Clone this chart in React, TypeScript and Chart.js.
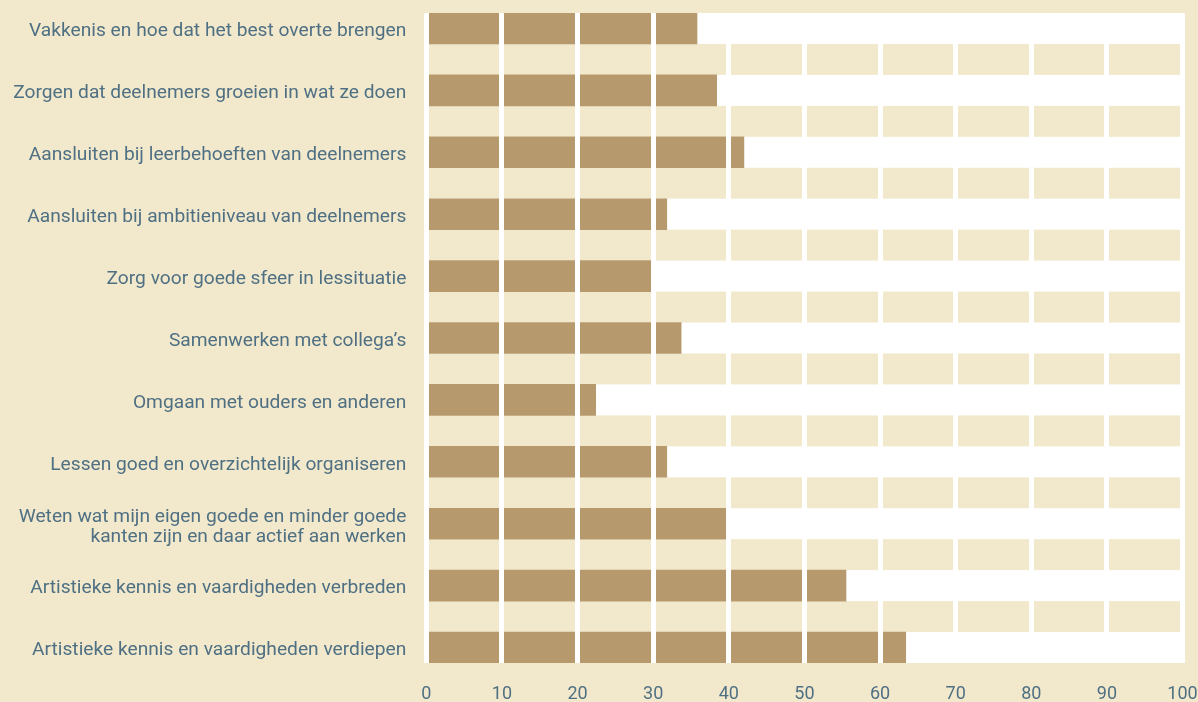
import React, { useEffect, useRef } from "react";
import { Chart, registerables } from "chart.js";

Chart.register(...registerables);

const categories: (string | string[])[] = [
  "Vakkenis en hoe dat het best overte brengen",
  "Zorgen dat deelnemers groeien in wat ze doen",
  "Aansluiten bij leerbehoeften van deelnemers",
  "Aansluiten bij ambitieniveau van deelnemers",
  "Zorg voor goede sfeer in lessituatie",
  "Samenwerken met collega’s",
  "Omgaan met ouders en anderen",
  "Lessen goed en overzichtelijk organiseren",
  ["Weten wat mijn eigen goede en minder goede", "kanten zijn en daar actief aan werken"],
  "Artistieke kennis en vaardigheden verbreden",
  "Artistieke kennis en vaardigheden verdiepen",
];

const values: number[] = [35.8, 38.4, 42, 31.8, 29.7, 33.7, 22.4, 31.8, 39.7, 55.5, 63.4];

const xMin = 0;
const xMax = 100;
const xStep = 10;

const PAGE_BG = "#F2E9CD";
const BAR = "#B69A6E";
const BAND = "#F2E9CD";
const TEXT = "#4F7083";
const FONT = "Roboto";

export default function App() {
  const ref = useRef<HTMLCanvasElement | null>(null);

  useEffect(() => {
    if (!ref.current) return;
    // interleave categories with spacer slots
    const labels: (string | string[])[] = [];
    const barData: (number | null)[] = [];
    categories.forEach((c, i) => {
      labels.push(c);
      barData.push(values[i]);
      if (i < categories.length - 1) {
        labels.push("");
        barData.push(null);
      }
    });

    const bgPlugin = {
      id: "bg",
      beforeDraw(chart: any) {
        const { ctx, chartArea } = chart;
        ctx.save();
        ctx.fillStyle = "#ffffff";
        ctx.fillRect(chartArea.left, chartArea.top, chartArea.right - chartArea.left, chartArea.bottom - chartArea.top);
        ctx.restore();
      },
      beforeDatasetsDraw(chart: any) {
        const { ctx } = chart;
        const xs = chart.scales.x;
        const ys = chart.scales.y;
        ctx.save();
        ctx.fillStyle = BAND;
        for (let i = 1; i < labels.length; i += 2) {
          const y0 = (ys.getPixelForValue(i - 1) + ys.getPixelForValue(i)) / 2;
          const y1 = (ys.getPixelForValue(i) + ys.getPixelForValue(i + 1)) / 2;
          const x0 = xs.getPixelForValue(xMin);
          const x1 = xs.getPixelForValue(xMax);
          ctx.fillRect(x0, y0, x1 - x0, y1 - y0);
        }
        ctx.restore();
      },
    };

    const chart = new Chart(ref.current, {
      type: "bar",
      data: {
        labels,
        datasets: [
          {
            data: barData,
            backgroundColor: BAR,
            borderWidth: 0,
            barPercentage: 1,
            categoryPercentage: 1,
          },
        ],
      },
      options: {
        indexAxis: "y",
        animation: false,
        responsive: false,
        layout: { padding: { top: 13, right: 15.5, left: 0, bottom: 0 } },
        plugins: {
          legend: { display: false },
          tooltip: { enabled: false },
        },
        scales: {
          x: {
            type: "linear",
            min: xMin,
            max: xMax,
            ticks: {
              stepSize: xStep,
              padding: 21,
              color: TEXT,
              font: { family: FONT, size: 18 },
            },
            grid: {
              color: "#ffffff",
              lineWidth: 5,
              z: 1,
              drawTicks: false,
            },
            border: { display: false },
            afterFit(scale: any) {
              scale.height = 39;
              scale.paddingLeft = 0;
              scale.paddingRight = 0;
            },
          },
          y: {
            type: "category",
            ticks: {
              autoSkip: false,
              padding: 20,
              labelOffset: 3,
              color: TEXT,
              font: { family: FONT, size: 19.2, lineHeight: 20 / 19.2 },
            },
            grid: { display: false, drawTicks: false },
            border: { display: false },
            afterFit(scale: any) {
              scale.width = 426.3;
              scale.paddingTop = 0;
              scale.paddingBottom = 0;
            },
          },
        },
      },
      plugins: [bgPlugin],
    });
    return () => chart.destroy();
  }, []);

  return (
    <div style={{ position: "fixed", left: 0, top: 0, width: 1198, height: 702, background: PAGE_BG }}>
      <canvas ref={ref} width={1198} height={702} style={{ display: "block" }} />
    </div>
  );
}
